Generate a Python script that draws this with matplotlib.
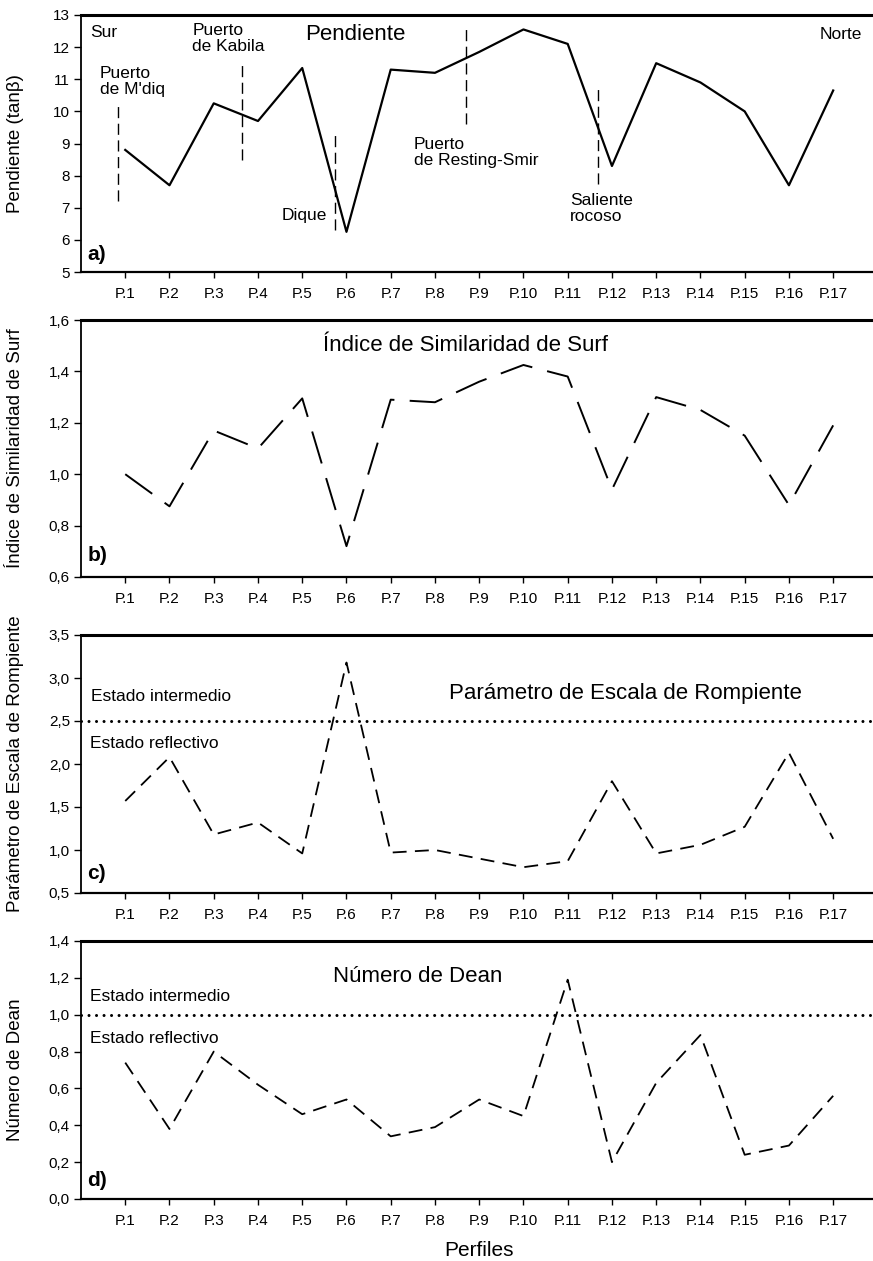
import numpy as np
import matplotlib
matplotlib.use("Agg")
import matplotlib.pyplot as plt

plt.rcParams['font.family'] = ['Liberation Sans', 'DejaVu Sans']
plt.rcParams['lines.scale_dashes'] = False

# perfiles P.1 .. P.17
perfiles = ['P.%d' % i for i in range(1, 18)]

pendiente = [8.8, 7.7, 10.25, 9.7, 11.35, 6.25, 11.3, 11.2, 11.85, 12.55,
             12.1, 8.3, 11.5, 10.9, 10.0, 7.7, 10.65]
similaridad = [1.0, 0.875, 1.17, 1.10, 1.295, 0.72, 1.29, 1.28, 1.36, 1.425,
               1.38, 0.94, 1.30, 1.25, 1.15, 0.88, 1.19]
escala_rompiente = [1.57, 2.08, 1.18, 1.32, 0.96, 3.18, 0.97, 1.0, 0.9, 0.8,
                    0.87, 1.8, 0.96, 1.06, 1.27, 2.13, 1.13]
dean = [0.74, 0.38, 0.80, 0.62, 0.46, 0.54, 0.34, 0.39, 0.54, 0.45,
        1.19, 0.2, 0.63, 0.89, 0.24, 0.29, 0.56]

# puertos / accidentes costeros (posicion entre perfiles, tramo vertical)
marca_x = [0.83, 3.65, 5.74, 8.71, 11.69]
marca_ymin = [7.2, 8.5, 6.3, 9.6, 7.75]
marca_ymax = [10.2, 11.6, 9.4, 12.7, 10.8]

umbral_rompiente = 2.5
umbral_dean = 1.0

x = np.arange(1, 18)

fig = plt.figure(figsize=(8.73, 12.61), dpi=100)
H = 1261.0
left = 81 / 873.0
# top, bottom in pixels
cajas = [(15, 272), (320, 577), (635, 893), (941, 1199)]
axes = []
for top, bot in cajas:
    ax = fig.add_axes([left, 1 - bot / H, 1 - left, (bot - top) / H])
    axes.append(ax)


def estilo(ax, ymin, ymax, paso, fmt):
    ax.set_xlim(0, 17.9)
    ax.set_ylim(ymin, ymax)
    ax.set_xticks(x)
    ax.set_xticklabels(perfiles, fontsize=11)
    ticks = np.arange(ymin, ymax + paso / 2, paso)
    ax.set_yticks(ticks)
    ax.set_yticklabels([(fmt % t).replace('.', ',') for t in ticks], fontsize=11)
    ax.tick_params(axis='x', direction='out', length=4, width=1, pad=7)
    ax.tick_params(axis='y', direction='out', length=5, width=1, pad=3)
    ax.spines['right'].set_visible(False)
    ax.spines['top'].set_linewidth(2.2)
    ax.spines['bottom'].set_linewidth(1.6)
    ax.spines['left'].set_linewidth(1.3)
    ax.yaxis.set_label_coords(-0.072, 0.5)


# a) Pendiente
ax = axes[0]
estilo(ax, 5, 13, 1, '%d')
ax.plot(x, pendiente, color='black', lw=1.6)
for mx, y0, y1 in zip(marca_x, marca_ymin, marca_ymax):
    ax.plot([mx, mx], [y0, y1], color='black', lw=1.0, dashes=(8, 4))
ax.set_ylabel('Pendiente (tanβ)', fontsize=13.5)
ax.text(0.2, 12.45, 'Sur', fontsize=12.5, va='center')
ax.text(17.65, 12.4, 'Norte', fontsize=12.5, va='center', ha='right')
ax.text(6.2, 12.38, 'Pendiente', fontsize=16, va='center', ha='center')
ax.text(2.52, 12.27, 'Puerto\nde Kabila', fontsize=12.5, va='center', linespacing=1.1)
ax.text(0.43, 10.93, "Puerto\nde M'diq", fontsize=12.5, va='center', linespacing=1.1)
ax.text(5.55, 6.77, 'Dique', fontsize=12.5, va='center', ha='right')
ax.text(7.52, 8.71, 'Puerto\nde Resting-Smir', fontsize=12.5, va='center', linespacing=1.1)
ax.text(11.05, 6.98, 'Saliente\nrocoso', fontsize=12.5, va='center', linespacing=1.1)
ax.text(0.14, 5.55, 'a)', fontsize=15, fontweight='bold', va='center')

# b) Indice de similaridad de surf
ax = axes[1]
estilo(ax, 0.6, 1.6, 0.2, '%.1f')
ax.plot(x, similaridad, color='black', lw=1.4, dashes=(24, 11))
ax.set_ylabel('Índice de Similaridad de Surf', fontsize=13.5)
ax.text(8.68, 1.50, 'Índice de Similaridad de Surf', fontsize=16, va='center', ha='center')
ax.text(0.14, 0.685, 'b)', fontsize=15, fontweight='bold', va='center')

# c) Parametro de escala de rompiente
ax = axes[2]
estilo(ax, 0.5, 3.5, 0.5, '%.1f')
ax.plot(x, escala_rompiente, color='black', lw=1.3, dashes=(10, 6))
ax.axhline(umbral_rompiente, color='black', lw=2.2, dashes=(0.01, 5.4),
           dash_capstyle='round')
ax.set_ylabel('Parámetro de Escala de Rompiente', fontsize=13.5)
ax.text(0.22, 2.78, 'Estado intermedio', fontsize=12.5, va='center')
ax.text(0.2, 2.24, 'Estado reflectivo', fontsize=12.5, va='center')
ax.text(12.3, 2.82, 'Parámetro de Escala de Rompiente', fontsize=16, va='center', ha='center')
ax.text(0.14, 0.73, 'c)', fontsize=15, fontweight='bold', va='center')

# d) Numero de Dean
ax = axes[3]
estilo(ax, 0.0, 1.4, 0.2, '%.1f')
ax.plot(x, dean, color='black', lw=1.3, dashes=(10, 6))
ax.axhline(umbral_dean, color='black', lw=2.2, dashes=(0.01, 5.4),
           dash_capstyle='round')
ax.set_ylabel('Número de Dean', fontsize=13.5)
ax.text(0.2, 1.10, 'Estado intermedio', fontsize=12.5, va='center')
ax.text(0.2, 0.87, 'Estado reflectivo', fontsize=12.5, va='center')
ax.text(7.6, 1.21, 'Número de Dean', fontsize=16, va='center', ha='center')
ax.text(0.14, 0.10, 'd)', fontsize=15, fontweight='bold', va='center')

fig.text((81 + 9.0 / 17.9 * 792) / 873.0, 1 - 1251 / H, 'Perfiles',
         fontsize=15, ha='center', va='center')

fig.savefig('out.png', dpi=100)
